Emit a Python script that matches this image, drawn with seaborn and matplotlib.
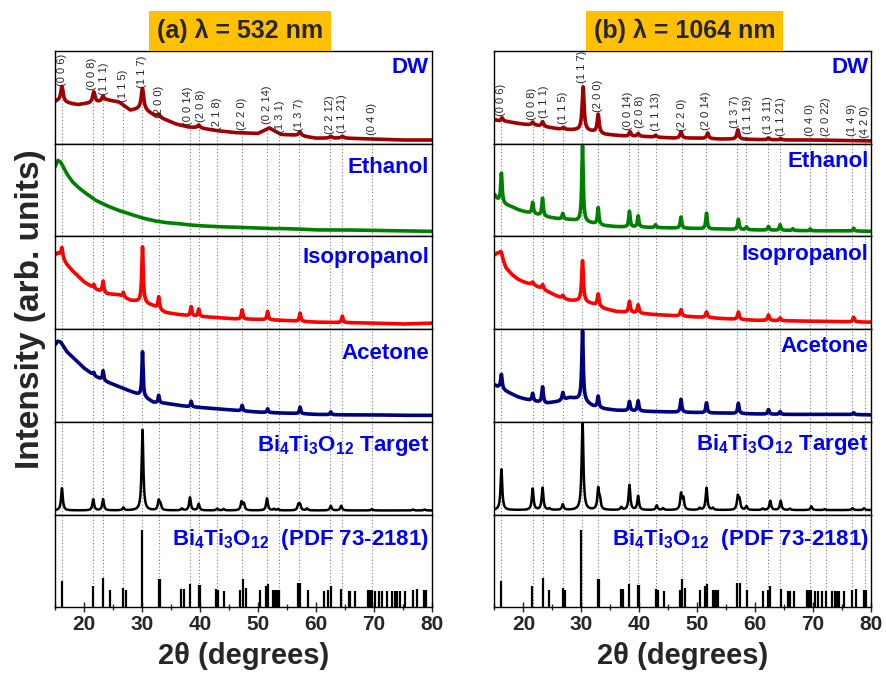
import numpy as np
import matplotlib
matplotlib.use("Agg")
import matplotlib.pyplot as plt
import seaborn as sns

sns.set_style("white")
plt.rcParams['font.family'] = ['Liberation Sans', 'DejaVu Sans']
plt.rcParams['mathtext.fontset'] = 'custom'
plt.rcParams['mathtext.rm'] = 'Liberation Sans:bold'
plt.rcParams['mathtext.it'] = 'Liberation Sans:bold'
plt.rcParams['mathtext.bf'] = 'Liberation Sans:bold'
plt.rcParams['mathtext.default'] = 'rm'

# ---- data (intensity in % of each panel height) ----
BG_X = [15, 15.5, 16, 17, 18, 19, 20, 22, 24, 26, 28, 30, 32, 34, 36, 38, 40,
        43, 46, 50, 52, 54, 57, 60, 65, 70, 75, 80]

# (a) 532 nm
a_dw_bg = [45, 46, 45, 44, 43, 42, 43, 44, 47, 45, 36, 38, 31, 26, 21, 18, 17,
           14, 12, 11, 17, 10, 9, 6, 6, 5, 4, 4]
a_dw_pos = [16.2, 21.7, 23.3, 30.1, 32.9, 39.8, 57.3, 62.6, 64.6]
a_dw_amp = [17, 12, 5, 22, 3, 3, 4, 2, 2]

a_eth_bg = [75, 82, 80, 68, 59, 53, 48, 39, 33, 28, 24, 20, 17, 15, 14, 12.5, 11.5,
            10.5, 10, 9, 8.5, 8.5, 8, 7, 7, 6.5, 6, 5.5]
a_eth_pos = []
a_eth_amp = []

a_iso_bg = [80, 82, 80, 70, 63, 57, 51, 43, 38, 37, 31, 29, 25, 18, 16, 14.5, 13.5,
            12.5, 11, 10.5, 10, 9.5, 8.5, 7.5, 7, 6.5, 5.5, 6.5]
a_iso_pos = [16.2, 21.7, 23.3, 26.8, 30.1, 32.9, 38.5, 39.8, 47.3, 51.7, 57.3, 64.6]
a_iso_amp = [10, 4, 12, 5, 60, 13, 10, 8, 10, 9, 9, 7]

a_ace_bg = [83, 87, 86, 76, 70, 64, 58, 49, 43, 38, 33, 28, 21, 20, 18, 16.5, 15.5,
            14, 12.5, 10.5, 10, 9.5, 9, 8, 7.5, 7.5, 7, 7]
a_ace_pos = [21.7, 23.3, 30.1, 32.9, 38.5, 47.3, 51.7, 57.3, 62.6]
a_ace_amp = [3, 10, 48, 8, 6, 6, 4, 7, 3]

a_tgt_bg = 4.4
a_tgt_pos = [16.2, 21.6, 23.3, 26.8, 30.1, 32.9, 33.2, 36.9, 38.3, 39.8, 43.0, 44.1,
             47.2, 47.6, 51.6, 52.8, 53.5, 57.0, 57.3, 58.5, 62.6, 64.4, 69.7, 76.8, 78.8]
a_tgt_amp = [24, 12, 12, 3, 87, 10, 6, 2, 14, 7, 2, 1.5,
             9, 7, 13, 1.5, 1.5, 6, 6, 2, 5, 5, 1.5, 1, 1]

# (b) 1064 nm
b_dw_bg = [26, 25, 24, 24, 23, 22, 21, 20, 18, 16, 15, 14.5, 13, 10, 9, 8, 8,
           7, 6, 6, 5.5, 5, 5, 4.5, 4, 4, 3.5, 3]
b_dw_pos = [16.3, 21.6, 23.3, 26.9, 30.3, 32.9, 38.4, 39.8, 42.8, 47.2, 51.8, 57.0, 62.3, 64.4]
b_dw_amp = [4, 3, 5, 2, 47, 20, 5, 3, 2, 7, 6, 10, 2, 1.5]

b_eth_bg = [45, 40, 37, 34, 32, 29, 27, 24, 21, 19, 18, 16, 14, 11.5, 10.5, 10, 10,
            9.5, 9, 8.5, 8, 8, 7.5, 7, 6.5, 6, 6, 5.5]
b_eth_pos = [16.2, 21.6, 23.3, 26.8, 30.2, 32.9, 38.3, 39.8, 42.8, 47.2, 51.6, 57.1,
             58.5, 62.3, 64.3, 66.5, 69.5, 77.0]
b_eth_amp = [32, 12, 19, 6, 82, 18, 17, 12, 3, 12, 17, 11, 3, 4, 6, 2, 2, 3]

b_iso_bg = [80, 82, 82, 66, 59, 54, 51, 47, 41, 35, 31, 30, 27, 22, 19, 18, 17,
            15.5, 14.5, 13, 12.5, 11.5, 10.5, 9.5, 9, 8.5, 8, 7.5]
b_iso_pos = [16.2, 21.6, 23.3, 26.8, 30.2, 32.9, 38.3, 39.8, 47.2, 51.6, 57.1, 62.3, 64.3, 77.0]
b_iso_amp = [4, 3, 5, 3, 44, 13, 12, 9, 7, 6, 8, 6, 3, 5]

b_ace_bg = [40, 38, 37, 33, 30, 27, 25, 22, 20, 22, 26, 24, 17, 14, 12.5, 12, 11.5,
            11, 10.5, 10, 9.5, 9.5, 9, 8.5, 8, 8, 8, 7.5]
b_ace_pos = [16.2, 21.6, 23.3, 26.8, 30.2, 32.9, 38.3, 39.8, 47.2, 51.6, 57.1, 62.3, 64.3, 77.0]
b_ace_amp = [15, 8, 17, 8, 75, 12, 10, 11, 14, 11, 11, 5, 3, 2]

b_tgt_bg = 4.8
b_tgt_pos = [16.2, 21.6, 23.3, 24.5, 26.8, 30.2, 32.9, 33.2, 36.9, 38.3, 39.8, 43.0, 44.1,
             47.2, 47.6, 50.4, 51.6, 52.7, 57.0, 57.3, 58.5, 61.3, 62.6, 64.4, 66.0,
             69.7, 72.0, 76.8, 78.8]
b_tgt_amp = [44, 23, 24, 1.5, 6, 98, 22, 10, 3, 27, 15, 5, 2,
             17, 12, 2, 24, 2, 14, 10, 4, 1.5, 10, 10, 1.5,
             4, 1, 2, 2]

# PDF 73-2181 reference sticks
pdf_pos = [16.2, 21.5, 23.3, 24.5, 26.8, 27.2, 30.0, 32.9, 33.1, 36.8, 37.2, 38.3,
           39.8, 40.0, 42.8, 43.2, 44.2, 47.0, 47.4, 47.9, 50.4, 51.4, 51.7, 52.7,
           53.0, 53.3, 53.6, 56.9, 57.3, 58.6, 61.4, 62.2, 62.6, 64.4, 65.7, 66.0,
           66.7, 69.0, 69.3, 69.7, 70.3, 70.9, 71.5, 72.3, 73.2, 73.7, 74.1, 74.5,
           75.4, 76.8, 77.4, 78.7, 79.1]
pdf_int = [28, 22.5, 32, 19, 21, 19, 83, 31, 31, 20, 20, 25,
           24, 24, 20, 19, 18, 19, 31, 21, 19, 23, 25, 19,
           19, 19, 19, 26, 26, 19, 17, 19, 23, 20, 18, 18,
           18, 19, 19, 19, 17, 17, 17, 18, 17, 17, 17, 17,
           17, 19, 19.5, 19, 19]

# hkl labels of the DW panels (peak position, label position, label base height)
a_hkl = ["(0 0 6)", "(0 0 8)", "(1 1 1)", "(1 1 5)", "(1 1 7)", "(2 0 0)", "(0 0 14)",
         "(2 0 8)", "(2 1 8)", "(2 2 0)", "(0 2 14)", "(1 3 1)", "(1 3 7)", "(2 2 12)",
         "(1 1 21)", "(0 4 0)"]
a_hkl_pos = [16.2, 21.6, 23.3, 26.8, 30.1, 32.9, 38.3, 39.8, 43.0, 47.3, 51.6, 53.7,
             57.2, 62.5, 64.5, 69.7]
a_hkl_x = [16.2, 21.4, 23.5, 26.8, 30.1, 32.9, 38.0, 40.2, 43.0, 47.3, 51.6, 53.8,
           57.2, 62.4, 64.6, 69.7]
a_hkl_y = [62, 58, 53, 45, 60, 28, 20, 23, 15, 15, 21, 12, 14, 10, 11.5, 9]

b_hkl = ["(0 0 6)", "(0 0 8)", "(1 1 1)", "(1 1 5)", "(1 1 7)", "(2 0 0)", "(0 0 14)",
         "(2 0 8)", "(1 1 13)", "(2 2 0)", "(2 0 14)", "(1 3 7)", "(1 1 19)", "(1 3 11)",
         "(1 1 21)", "(0 4 0)", "(2 0 22)", "(1 4 9)", "(4 2 0)"]
b_hkl_pos = [16.2, 21.6, 23.3, 26.8, 30.1, 32.9, 38.3, 39.8, 42.8, 47.3, 51.5, 56.9,
             58.5, 62.3, 64.3, 69.4, 72.2, 76.8, 78.9]
b_hkl_x = [16.2, 21.4, 23.5, 26.8, 30.1, 32.9, 38.0, 40.2, 42.8, 47.3, 51.5, 56.6,
           58.8, 62.2, 64.4, 69.4, 72.2, 76.7, 78.9]
b_hkl_y = [30, 26, 28, 21, 65, 34, 15, 17, 13.5, 14, 15, 17, 10, 10, 8, 8, 8, 8, 6]

row_names = ["DW", "Ethanol", "Isopropanol", "Acetone",
             r"$Bi_4Ti_3O_{12}$ Target", r"$Bi_4Ti_3O_{12}$  (PDF 73-2181)"]
row_colors = ["#A00000", "#008000", "#FF0000", "#000080", "black"]

X = np.linspace(15, 80, 2601)


def pattern(bg, pos, amp, width):
    if np.ndim(bg):
        y = np.interp(X, BG_X, bg)
    else:
        y = np.full_like(X, bg)
    for p, a in zip(pos, amp):
        y = y + a / (1 + ((X - p) / (width / 2)) ** 2)
    return y


panels = [
    dict(title="(a) λ = 532 nm", tx=0.2706,
         curves=[(a_dw_bg, a_dw_pos, a_dw_amp, 0.5), (a_eth_bg, a_eth_pos, a_eth_amp, 0.3),
                 (a_iso_bg, a_iso_pos, a_iso_amp, 0.3), (a_ace_bg, a_ace_pos, a_ace_amp, 0.25),
                 (a_tgt_bg, a_tgt_pos, a_tgt_amp, 0.35)],
         hkl=a_hkl, hkl_pos=a_hkl_pos, hkl_x=a_hkl_x, hkl_y=a_hkl_y,
         name_y=[0.93, 0.86, 0.89, 0.85, 0.88, 0.87]),
    dict(title="(b) λ = 1064 nm", tx=0.7717,
         curves=[(b_dw_bg, b_dw_pos, b_dw_amp, 0.4), (b_eth_bg, b_eth_pos, b_eth_amp, 0.3),
                 (b_iso_bg, b_iso_pos, b_iso_amp, 0.35), (b_ace_bg, b_ace_pos, b_ace_amp, 0.3),
                 (b_tgt_bg, b_tgt_pos, b_tgt_amp, 0.35)],
         hkl=b_hkl, hkl_pos=b_hkl_pos, hkl_x=b_hkl_x, hkl_y=b_hkl_y,
         name_y=[0.93, 0.92, 0.92, 0.93, 0.89, 0.87]),
]

fig = plt.figure(figsize=(8.87, 6.8), dpi=100)
gs = fig.add_gridspec(6, 2, left=0.062, right=0.982, top=0.925, bottom=0.107,
                      wspace=0.167, hspace=0)

dot_kw = dict(color="#7a7a7a", linestyle=(0, (1, 2)), linewidth=0.8, zorder=0)

for col, pan in enumerate(panels):
    for row in range(6):
        ax = fig.add_subplot(gs[row, col])
        ax.set_xlim(15, 80)
        ax.set_ylim(0, 100)
        ax.set_yticks([])
        for s in ax.spines.values():
            s.set_color("black")
            s.set_linewidth(1.0)

        if row == 0:
            ax.vlines(pan["hkl_pos"], 0, pan["hkl_y"], **dot_kw)
            for lab, p, yy in zip(pan["hkl"], pan["hkl_x"], pan["hkl_y"]):
                ax.text(p, yy, lab, rotation=90, ha="center", va="bottom",
                        fontsize=8, clip_on=False)
        else:
            for p in pan["hkl_pos"]:
                ax.axvline(p, **dot_kw)

        if row < 5:
            bg, pos, amp, w = pan["curves"][row]
            y = pattern(bg, pos, amp, w)
            lw = 1.8 if row == 4 else 2.6
            sns.lineplot(x=X, y=y, ax=ax, color=row_colors[row], linewidth=lw,
                         estimator=None, legend=False)
        else:
            ax.vlines(pdf_pos, 0, pdf_int, color="black", linewidth=1.6)

        ax.text(0.993, pan["name_y"][row], row_names[row], transform=ax.transAxes,
                ha="right", va="top", fontsize=16, fontweight="bold", color="#0000FF")

        ax.set_xlabel("")
        ax.set_ylabel("")
        if row < 5:
            ax.set_xticks([])
        else:
            ax.set_xticks(range(20, 81, 10))
            ax.set_xticks(range(15, 80, 10), minor=True)
            ax.tick_params(axis="x", which="major", direction="inout", length=7,
                           width=1, labelsize=15, pad=2, bottom=True)
            ax.tick_params(axis="x", which="minor", direction="inout", length=5,
                           width=1, bottom=True)
            for t in ax.get_xticklabels():
                t.set_fontweight("bold")
            ax.set_xlabel("2θ (degrees)", fontsize=21, fontweight="bold", labelpad=6)

    fig.text(pan["tx"], 0.954, pan["title"], ha="center", va="center", fontsize=18,
             fontweight="bold",
             bbox=dict(boxstyle="square,pad=0.32", fc="#FFC000", ec="none"))

fig.text(0.034, 0.545, "Intensity (arb. units)", rotation=90, ha="center", va="center",
         fontsize=24, fontweight="bold")

fig.savefig("out.png", dpi=100)
